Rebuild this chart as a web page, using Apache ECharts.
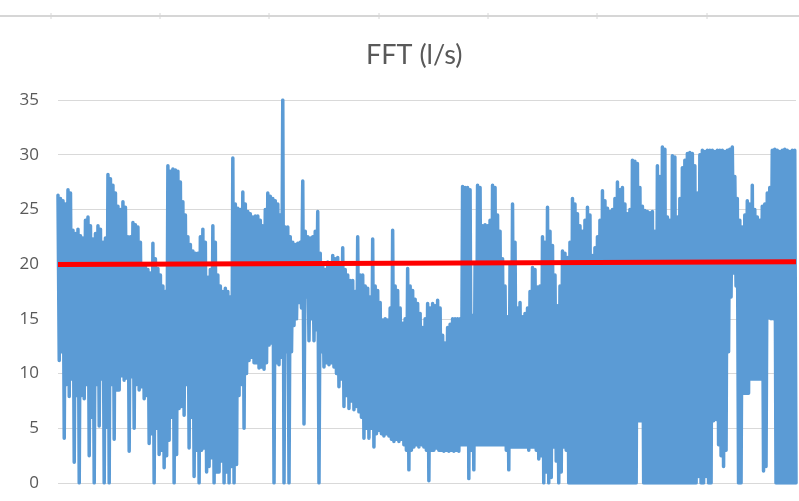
<!DOCTYPE html>
<html style="height:100%;width:100%;">

<head>
  <meta charset="utf-8">
  <title>FFT (l/s)</title>
  <script src="https://cdn.jsdelivr.net/npm/echarts@6/dist/echarts.min.js"></script>
</head>

<body style="margin:0px;height:100%;width:100%;background:#ffffff;">
  <div id="main" style="width:799px;height:501px"></div>
  <script type="text/javascript" charset="utf-8">
    // valeurs, par tranche de ~5 px : haut, bas, haut, bas
    var fftValues = [
      26.3, 11.2, 26.0, 12.0, 25.8, 4.1, 25.5, 9.0, 26.8, 7.9, 26.5, 9.5, 23.1, 1.9, 22.8, 8.0,
      23.2, 0, 22.6, 8.0, 22.4, 7.7, 24.0, 9.0, 24.3, 2.5, 23.5, 6.0, 22.3, 0, 22.8, 9.0,
      23.5, 5.2, 23.2, 9.5, 22.0, 0, 22.4, 5.1, 28.2, 0, 27.8, 9.0, 27.2, 4.0, 26.5, 8.5,
      25.3, 8.5, 25.0, 9.8, 25.7, 9.4, 25.2, 9.6, 22.5, 2.9, 22.5, 9.7, 23.8, 5.0, 23.6, 9.0,
      23.4, 8.5, 22.0, 8.8, 20.0, 7.7, 19.8, 8.0, 19.5, 3.6, 19.2, 4.5, 21.9, 0, 20.5, 5.0,
      19.6, 2.6, 19.0, 3.0, 18.0, 1.4, 17.5, 2.5, 29.0, 3.9, 28.5, 6.0, 28.7, 0, 28.6, 2.6,
      28.5, 6.8, 27.5, 7.0, 25.7, 6.2, 24.5, 9.0, 22.5, 3.2, 21.8, 6.0, 21.2, 0.6, 21.0, 3.0,
      21.0, 0, 22.5, 3.0, 23.2, 3.2, 22.0, 1.0, 18.8, 1.5, 19.5, 2.3, 23.5, 0, 22.0, 1.0,
      19.0, 1.0, 18.0, 2.0, 17.5, 0, 17.8, 1.0, 17.5, 0, 17.0, 1.5, 29.7, 0, 25.5, 1.7,
      25.1, 8.0, 25.0, 9.0, 26.6, 5.0, 25.5, 10.0, 24.8, 11.2, 24.6, 11.5, 24.3, 11.0, 24.4, 11.0,
      24.4, 10.5, 24.0, 10.6, 23.5, 10.4, 25.0, 11.0, 26.5, 12.6, 26.2, 12.8, 26.0, 0, 25.8, 11.0,
      25.5, 10.8, 24.5, 11.5, 35.0, 0, 23.4, 12.0, 23.4, 0, 22.5, 12.0, 22.0, 14.4, 21.8, 15.0,
      21.9, 16.5, 22.0, 16.0, 27.6, 5.4, 23.0, 17.0, 22.5, 13.0, 22.4, 15.0, 22.5, 13.0, 23.0, 14.0,
      24.8, 0, 21.0, 12.0, 20.0, 10.6, 19.5, 11.0, 20.2, 10.8, 19.8, 11.0, 20.8, 10.6, 20.5, 10.0,
      20.6, 8.8, 20.0, 9.5, 21.5, 7.0, 19.5, 8.0, 19.0, 6.8, 18.5, 7.5, 18.5, 6.7, 17.5, 7.0,
      22.5, 6.5, 19.0, 6.0, 19.0, 4.1, 18.0, 5.0, 17.8, 4.1, 17.0, 5.0, 22.3, 3.3, 18.0, 4.5,
      17.6, 4.8, 16.5, 4.5, 14.9, 4.3, 15.0, 4.5, 14.9, 4.3, 16.0, 4.0, 23.1, 3.8, 18.0, 4.0,
      17.6, 3.8, 16.0, 4.0, 14.6, 3.5, 15.0, 3.0, 19.6, 1.2, 18.0, 3.0, 17.6, 3.3, 16.8, 3.5,
      16.4, 3.3, 15.5, 3.5, 14.2, 3.3, 15.0, 3.0, 16.4, 0.2, 16.0, 3.0, 16.4, 3.0, 16.2, 3.2,
      16.7, 3.0, 16.0, 3.0, 13.5, 2.9, 12.8, 3.0, 14.2, 2.9, 14.5, 3.0, 15.0, 2.9, 15.0, 3.0,
      15.0, 2.9, 15.0, 3.5, 27.1, 3.5, 27.0, 3.5, 27.0, 0.4, 26.8, 3.0, 15.3, 1.2, 20.0, 3.5,
      27.2, 3.5, 27.0, 3.5, 23.5, 3.5, 23.6, 3.5, 23.5, 3.5, 24.0, 3.5, 27.2, 3.5, 27.0, 3.5,
      24.5, 3.5, 23.0, 3.5, 20.5, 3.5, 18.0, 3.0, 15.2, 1.2, 20.0, 3.3, 25.5, 3.3, 22.0, 3.3,
      16.0, 3.3, 16.5, 3.3, 15.2, 3.3, 15.5, 3.3, 16.0, 3.0, 17.5, 3.3, 19.7, 3.3, 19.5, 3.0,
      17.9, 2.2, 18.0, 2.5, 22.5, 0, 22.0, 1.0, 25.2, 0, 23.0, 0.5, 21.7, 3.3, 19.0, 2.0,
      16.2, 0, 18.0, 1.0, 21.2, 3.3, 21.0, 3.0, 20.6, 0, 22.0, 0, 26.0, 0, 25.5, 0,
      24.6, 0, 23.5, 0, 23.0, 0, 24.0, 0, 25.2, 0, 24.5, 0, 20.8, 0, 21.5, 0,
      22.5, 0, 24.0, 0, 26.7, 0, 25.8, 0, 25.1, 0, 24.8, 0, 25.0, 0, 26.0, 0,
      27.5, 0, 26.8, 0, 27.0, 0, 25.5, 0, 24.6, 0, 25.0, 0, 29.5, 0, 29.4, 0,
      29.2, 5.7, 27.0, 5.7, 25.3, 0, 24.9, 0, 24.8, 0, 24.7, 0, 24.8, 0, 23.0, 0,
      29.0, 0, 28.0, 0, 30.7, 0, 30.5, 0, 24.3, 0, 24.0, 0, 29.9, 0, 29.8, 0,
      24.3, 0, 26.0, 0, 28.8, 0, 29.5, 0, 30.1, 0, 30.2, 0, 30.1, 0, 29.0, 0,
      26.5, 0.6, 30.0, 0, 30.4, 0, 30.3, 0.6, 30.4, 0, 30.4, 0, 30.4, 5.7, 30.3, 5.8,
      30.4, 3.5, 30.4, 2.5, 30.4, 1.5, 30.3, 3.0, 30.4, 12.0, 30.5, 17.0, 30.7, 19.2, 28.0, 18.0,
      26.0, 0, 24.0, 0, 23.4, 8.2, 24.5, 8.2, 25.8, 8.2, 25.5, 9.5, 27.2, 9.5, 25.0, 9.5,
      24.3, 9.5, 24.0, 9.5, 25.3, 1.1, 25.5, 1.5, 26.5, 15.1, 27.0, 15.0, 30.4, 15.0, 30.5, 0,
      30.4, 0, 30.3, 0, 30.4, 0, 30.5, 0, 30.4, 0, 30.3, 0, 30.4, 0, 30.4, 0
    ];
    // tendance linéaire (début, fin)
    var trendValues = [19.97, 20.22];
    var trendCategories = ['debut', 'fin'];
    var yMin = 0;
    var yMax = 35;
    var yStep = 5;

    var fftCategories = fftValues.map(function (v, i) { return i; });

    var myChart = echarts.init(document.getElementById("main"));

    var option = {
      animation: false,
      backgroundColor: '#ffffff',
      title: {
        text: 'FFT (l/s)',
        left: 361,
        top: 37,
        textStyle: {
          fontFamily: 'Lato',
          fontSize: 27,
          fontWeight: 'normal',
          color: '#595959'
        }
      },
      // bout d'en-tête gris tout en haut
      graphic: [{
        type: 'group',
        children: [
          { type: 'line', shape: { x1: 0, y1: 16, x2: 799, y2: 16 }, style: { stroke: '#d6d6d6', lineWidth: 2 } },
          { type: 'line', shape: { x1: 51, y1: 13, x2: 51, y2: 19 }, style: { stroke: '#d6d6d6', lineWidth: 1 } },
          { type: 'line', shape: { x1: 160, y1: 13, x2: 160, y2: 19 }, style: { stroke: '#d6d6d6', lineWidth: 1 } },
          { type: 'line', shape: { x1: 269, y1: 13, x2: 269, y2: 19 }, style: { stroke: '#d6d6d6', lineWidth: 1 } },
          { type: 'line', shape: { x1: 379, y1: 13, x2: 379, y2: 19 }, style: { stroke: '#d6d6d6', lineWidth: 1 } },
          { type: 'line', shape: { x1: 488, y1: 13, x2: 488, y2: 19 }, style: { stroke: '#d6d6d6', lineWidth: 1 } },
          { type: 'line', shape: { x1: 597, y1: 13, x2: 597, y2: 19 }, style: { stroke: '#d6d6d6', lineWidth: 1 } },
          { type: 'line', shape: { x1: 707, y1: 13, x2: 707, y2: 19 }, style: { stroke: '#d6d6d6', lineWidth: 1 } }
        ]
      }],
      grid: {
        left: 58,
        right: 3,
        top: 100,
        bottom: 18,
        containLabel: false
      },
      xAxis: [{
        type: 'category',
        data: fftCategories,
        boundaryGap: false,
        axisLine: { show: false },
        axisTick: { show: false },
        axisLabel: { show: false },
        splitLine: { show: false }
      }, {
        type: 'category',
        data: trendCategories,
        boundaryGap: false,
        show: false
      }],
      yAxis: {
        type: 'value',
        min: yMin,
        max: yMax,
        interval: yStep,
        axisLine: { show: false },
        axisTick: { show: false },
        axisLabel: {
          margin: 19,
          fontFamily: 'Open Sans',
          fontSize: 17,
          color: '#595959'
        },
        splitLine: {
          lineStyle: { color: '#d9d9d9', width: 1 }
        }
      },
      series: [{
        name: 'FFT',
        type: 'line',
        xAxisIndex: 0,
        data: fftValues,
        showSymbol: false,
        symbol: 'none',
        lineStyle: {
          color: '#5b9bd5',
          width: 3.5,
          cap: 'round',
          join: 'round'
        },
        z: 2
      }, {
        name: 'tendance',
        type: 'line',
        xAxisIndex: 1,
        data: trendValues,
        showSymbol: false,
        symbol: 'none',
        lineStyle: {
          color: '#ff0000',
          width: 5
        },
        z: 3
      }]
    };

    myChart.setOption(option, true);
  </script>
</body>

</html>
